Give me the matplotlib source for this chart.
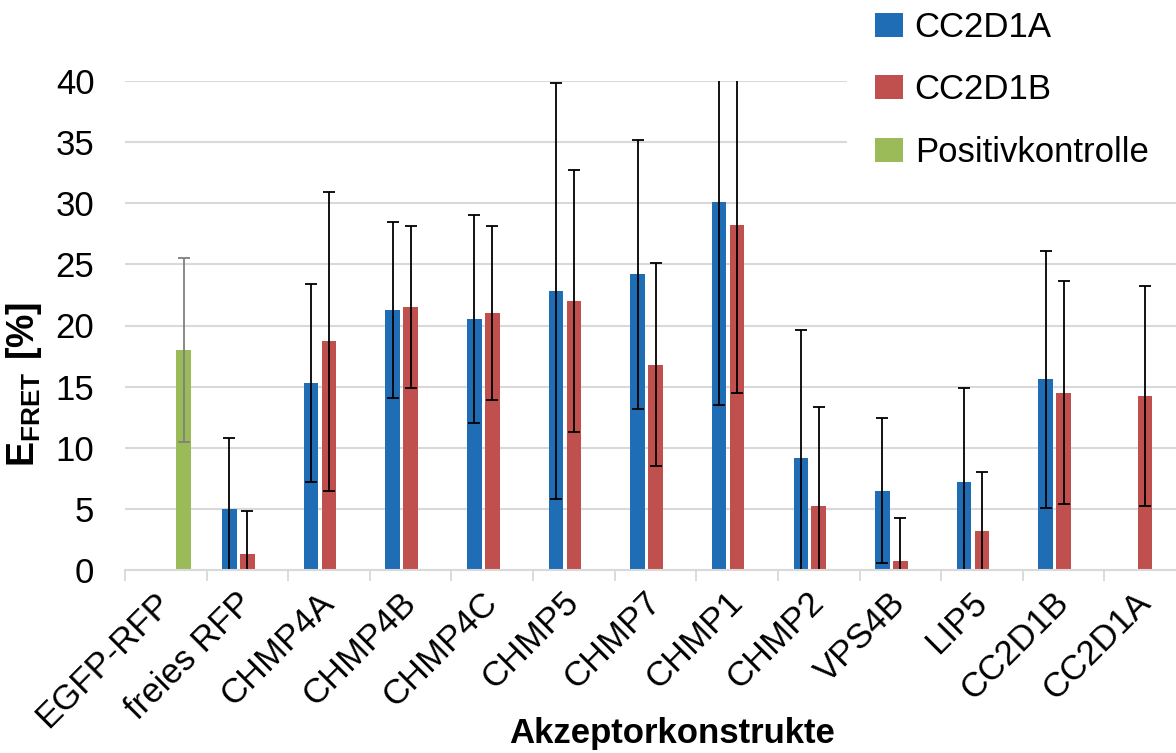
import numpy as np
import matplotlib
matplotlib.use("Agg")
import matplotlib.pyplot as plt

plt.rcParams['font.family'] = ['Liberation Sans', 'DejaVu Sans']
plt.rcParams['mathtext.fontset'] = 'custom'
plt.rcParams['mathtext.rm'] = 'Liberation Sans'
plt.rcParams['mathtext.bf'] = 'Liberation Sans:bold'

# acceptor constructs on the x axis
categories = ['EGFP-RFP', 'freies RFP', 'CHMP4A', 'CHMP4B', 'CHMP4C', 'CHMP5',
              'CHMP7', 'CHMP1', 'CHMP2', 'VPS4B', 'LIP5', 'CC2D1B', 'CC2D1A']

# FRET efficiency [%] per donor, mean and standard deviation
cc2d1a_mean = [np.nan, 5.0, 15.3, 21.3, 20.5, 22.8, 24.2, 30.1, 9.2, 6.5, 7.2, 15.6, np.nan]
cc2d1a_err = [np.nan, 5.8, 8.1, 7.2, 8.5, 17.0, 11.0, 16.6, 10.4, 5.95, 7.7, 10.5, np.nan]
cc2d1b_mean = [np.nan, 1.3, 18.7, 21.5, 21.0, 22.0, 16.8, 28.2, 5.2, 0.7, 3.2, 14.5, 14.2]
cc2d1b_err = [np.nan, 3.5, 12.2, 6.6, 7.1, 10.7, 8.3, 13.7, 8.1, 3.55, 4.8, 9.1, 9.0]
positiv_mean = [18.0] + [np.nan] * 12
positiv_err = [7.5] + [np.nan] * 12

series_names = ['CC2D1A', 'CC2D1B', 'Positivkontrolle']
colors = ['#1F6DB5', '#C0504D', '#9BBB59']

fig = plt.figure(figsize=(11.76, 7.53), dpi=100)
ax = fig.add_axes([125 / 1176, 183 / 753, 1061 / 1176, 489 / 753])

x = np.arange(len(categories))
width = 0.178
step = 0.22
err_kw = dict(ecolor='black', elinewidth=1.3, capsize=4.5, capthick=1.3)

bars = []
for i, (mean, err, col) in enumerate([(cc2d1a_mean, cc2d1a_err, colors[0]),
                                      (cc2d1b_mean, cc2d1b_err, colors[1]),
                                      (positiv_mean, positiv_err, colors[2])]):
    kw = dict(err_kw)
    if i == 2:
        kw['ecolor'] = '#808080'
    b = ax.bar(x + (i - 1) * step, mean, width, yerr=err, color=col,
               error_kw=kw, label=series_names[i])
    bars.append(b)

ax.set_xlim(-0.5, len(categories) - 0.5)
ax.set_ylim(0, 40)
ax.set_yticks(np.arange(0, 41, 5))
ax.tick_params(axis='y', length=0, labelsize=25, pad=22)

ax.set_xticks(x)
ax.set_xticklabels(categories, rotation=45, ha='right', va='center',
                   rotation_mode='anchor', fontsize=25)
ax.tick_params(axis='x', which='major', length=0, pad=20)
ax.set_xticks(np.arange(-0.5, len(categories), 1), minor=True)
ax.tick_params(axis='x', which='minor', length=8, width=1.3, color='#D9D9D9')

ax.yaxis.grid(True, color='#D9D9D9', linewidth=1.5)
ax.set_axisbelow(True)
for side in ['top', 'right', 'left']:
    ax.spines[side].set_visible(False)
ax.spines['bottom'].set_color('#D9D9D9')
ax.spines['bottom'].set_linewidth(1.5)

ax.set_ylabel(r'$\mathbf{E}_{\mathbf{FRET}}\ \mathbf{[\%]}$', fontsize=27)
ax.yaxis.set_label_coords(-0.076, 0.38)
ax.set_xlabel('Akzeptorkonstrukte', fontsize=25, fontweight='bold')
ax.xaxis.set_label_coords((672 - 125) / 1061, -0.300)

leg = fig.legend(handles=bars, labels=series_names, loc='upper left',
                 bbox_to_anchor=(847 / 1176, 1 + 17 / 753), borderaxespad=0,
                 fontsize=25, frameon=True, facecolor='white', edgecolor='none',
                 framealpha=1, fancybox=False, borderpad=0.8, labelspacing=0.85,
                 handlelength=0.8, handleheight=0.69, handletextpad=0.35)

fig.savefig('out.png', dpi=100)
